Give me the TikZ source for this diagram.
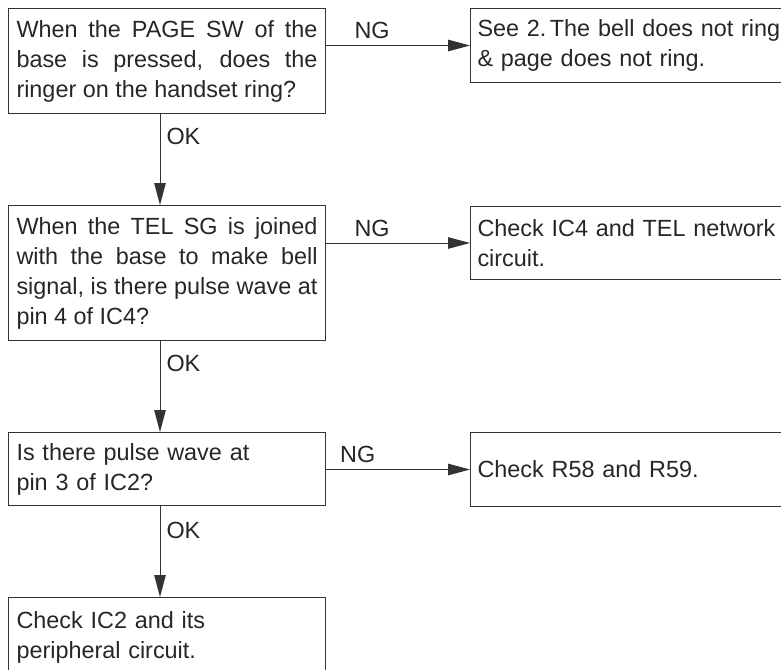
\documentclass[tikz,border=0pt]{standalone}
\usepackage{fontspec}
\setmainfont{Liberation Sans}
\usetikzlibrary{arrows.meta,positioning}

\begin{document}
\begin{tikzpicture}[x=1pt,y=-1pt,
        box/.style={draw=black!80,line width=1pt,anchor=north west,inner xsep=8pt,inner ysep=0pt,
            font=\fontsize{23.4}{30}\selectfont,text=black!85},
        ask/.style={box,minimum width=317pt,text width=301pt,align=justify},
        fix/.style={box,minimum width=334pt,text width=320pt,inner xsep=7pt,align=left},
        flow/.style={draw=black!80,line width=1pt,-{Triangle[length=22pt,width=11.5pt]}},
        lbl/.style={font=\fontsize{23.4}{30}\selectfont,text=black!85,inner sep=6pt}]
        \useasboundingbox (0,0) rectangle (781,669);
        \clip (0,0) rectangle (781,669);

        \node[ask,minimum height=105pt] (q1) at (8,8) {When the PAGE SW of the\linebreak base is pressed, does the\linebreak ringer on the handset ring?};
        \node[fix,minimum height=74pt] (r1) at (470,8) {See 2.\hspace{3.5pt}The bell does not ring\\\& page does not ring.};
        \node[ask,minimum height=135pt] (q2) at (8,205) {When the TEL SG is joined\linebreak with the base to make bell\linebreak signal, is there pulse wave at\linebreak pin 4 of IC4?};
        \node[fix,minimum height=73pt] (r2) at (470,206) {Check IC4 and TEL network\\circuit.};
        \node[ask,align=left,minimum height=73pt] (q3) at (8,432) {Is there pulse wave at\\pin 3 of IC2?};
        \node[fix,minimum height=74pt] (r3) at (470,432) {Check R58 and R59.};
        \node[ask,align=left,minimum height=80pt] (q4) at (8,597) {Check IC2 and its\\peripheral circuit.};

        \coordinate (spine) at (160,0);
        \draw[flow] (q1.south -| spine) -- node[lbl,right,pos=0.25]{OK} (q2.north -| spine);
        \draw[flow] (q2.south -| spine) -- node[lbl,right,pos=0.25]{OK} (q3.north -| spine);
        \draw[flow] (q3.south -| spine) -- node[lbl,right,pos=0.27]{OK} (q4.north -| spine);

        \draw[flow] (r1.west -| q1.east) -- node[lbl,above,pos=0.32]{NG} (r1.west);
        \draw[flow] (r2.west -| q2.east) -- node[lbl,above,pos=0.32]{NG} (r2.west);
        \draw[flow] (r3.west -| q3.east) -- node[lbl,above,pos=0.22]{NG} (r3.west);

    \end{tikzpicture}
\end{document}
